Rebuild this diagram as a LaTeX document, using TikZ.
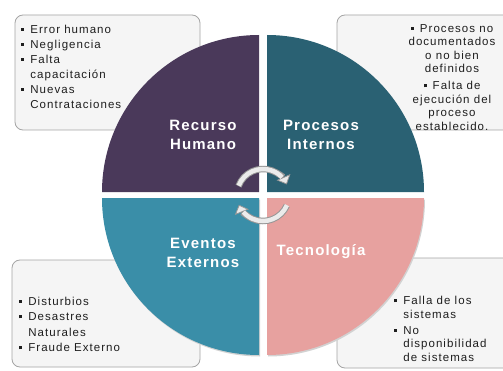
\documentclass[tikz,border=0pt]{standalone}
\usepackage{fontspec}
\setmainfont{Liberation Sans}
\newfontfamily\listfont[LetterSpace=9]{Liberation Sans}
\newfontfamily\quadfont[LetterSpace=8]{Liberation Sans}
\usepackage{tikz}
\usetikzlibrary{arrows.meta,positioning,calc}
\definecolor{humanbg}{RGB}{74,57,90}
\definecolor{procbg}{RGB}{42,97,115}
\definecolor{eventbg}{RGB}{58,142,168}
\definecolor{techbg}{RGB}{231,161,159}
\definecolor{boxbg}{RGB}{245,245,245}
\definecolor{boxline}{RGB}{165,165,165}
\definecolor{listtext}{RGB}{30,30,30}
\definecolor{cycgray}{RGB}{150,150,150}
\definecolor{cyclight}{RGB}{235,235,235}
\newcommand{\sqb}{\rule[2.2pt]{3.2pt}{3.2pt}\hspace{6pt}}
\newcommand{\ind}{\hspace*{9.2pt}}

\begin{document}
\begin{tikzpicture}[x=1pt, y=1pt,
    infobox/.style={draw=boxline, fill=boxbg, rounded corners=8pt, line width=0.8pt},
    lbl/.style={font=\quadfont\bfseries\fontsize{15}{19}\selectfont, text=white, align=center},
    lst/.style={font=\listfont\fontsize{11.5}{13.5}\selectfont, text=listtext, inner sep=0pt},
    cyc/.style={draw=cycgray, line width=6.5pt, -{Triangle[width=15pt,length=8pt,line width=0.8pt,fill=cyclight]}},
    cycin/.style={draw=cyclight, line width=4.5pt}
]
\clip (0,0) rectangle (503,370);
\fill[white] (0,0) rectangle (503,370);

% boxes behind the circle
\draw[infobox] (15,240) rectangle (200,355);
\draw[infobox] (337,240) rectangle (520,355);
\draw[infobox] (12,3) rectangle (200,110);
\draw[infobox] (337,2) rectangle (520,112);

% quadrants
\coordinate (ctr) at (263,175);
\fill[gray!35] ($(ctr)+(-3,-4.5)$) -- ++(-157,0) arc[start angle=180, end angle=270, radius=157] -- cycle;
\fill[gray!35] ($(ctr)+(5,-4.5)$) -- ++(157,0) arc[start angle=0, end angle=-90, radius=157] -- cycle;
\fill[humanbg] ($(ctr)+(-4,3)$) -- ++(-157,0) arc[start angle=180, end angle=90, radius=157] -- cycle;
\fill[procbg] ($(ctr)+(4,3)$) -- ++(157,0) arc[start angle=0, end angle=90, radius=157] -- cycle;
\fill[eventbg] ($(ctr)+(-4,-3)$) -- ++(-157,0) arc[start angle=180, end angle=270, radius=157] -- cycle;
\fill[techbg] ($(ctr)+(4,-3)$) -- ++(157,0) arc[start angle=0, end angle=-90, radius=157] -- cycle;

% labels
\node[lbl] (human) at (203,235) {Recurso\\Humano};
\node[lbl] (proc) at (321,235) {Procesos\\Internos};
\node[lbl] (event) at (203,117) {Eventos\\Externos};
\node[lbl] (tech) at (321,118) {Tecnología};

% cycle arrows
\draw[cyc] ($(ctr)+(160:26)$) arc[start angle=160, end angle=24, radius=26];
\draw[cycin] ($(ctr)+(159:26)$) arc[start angle=159, end angle=43, radius=26];
\draw[cyc] ($(ctr)+(-24:26)$) arc[start angle=-24, end angle=-158, radius=26];
\draw[cycin] ($(ctr)+(-23:26)$) arc[start angle=-23, end angle=-139, radius=26];

% lists
\node[lst, anchor=north west, align=left, font=\listfont\fontsize{11.5}{15}\selectfont] (humanlist) at (21,345.5)
  {\sqb Error humano\\ \sqb Negligencia\\ \sqb Falta\\ \ind capacitación\\ \sqb Nuevas\\ \ind Contrataciones};
\node[lst, anchor=north, align=center] (proclist) at (452,346)
  {\sqb Procesos no\\ documentados\\ o no bien\\ definidos\\[3.5pt] \sqb Falta de\\ ejecución del\\ proceso\\ establecido.};
\node[lst, anchor=north west, align=left, font=\listfont\fontsize{11.5}{15.5}\selectfont] (eventlist) at (19,73.5)
  {\sqb Disturbios\\ \sqb Desastres\\ \ind Naturales\\ \sqb Fraude Externo};
\node[lst, anchor=north west, align=left] (techlist) at (394,74)
  {\sqb Falla de los\\ \ind sistemas\\[2.5pt] \sqb No\\ \ind disponibilidad\\ \ind de sistemas};
\end{tikzpicture}
\end{document}
